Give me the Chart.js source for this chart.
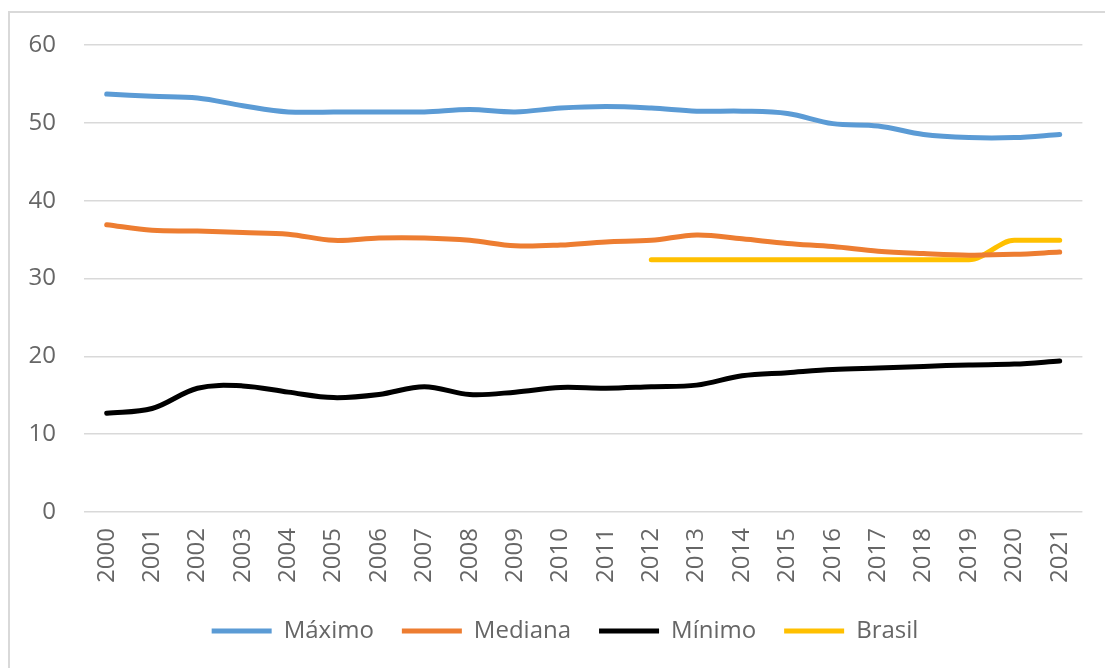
<!DOCTYPE html>
<html>
<head>
<meta charset="utf-8">
<script src="https://cdn.jsdelivr.net/npm/chart.js@4.4.1/dist/chart.umd.min.js"></script>
<style>
    html, body { margin: 0; padding: 0; background: #fff; }
    #wrap { position: relative; width: 1105px; height: 668px; overflow: hidden; }
    #frame { position: absolute; left: 8px; top: 11px; width: 1200px; height: 800px;
             border-left: 2px solid #d9d9d9; border-top: 2px solid #d9d9d9; }
    #chart { position: absolute; left: 0; top: 0; }
</style>
</head>
<body>
<div id="wrap">
    <div id="frame"></div>
    <canvas id="chart" width="1105" height="668"></canvas>
</div>
<script>
const years = ['2000','2001','2002','2003','2004','2005','2006','2007','2008','2009','2010',
               '2011','2012','2013','2014','2015','2016','2017','2018','2019','2020','2021'];

const maximo  = [53.7, 53.4, 53.2, 52.2, 51.4, 51.4, 51.4, 51.4, 51.7, 51.4, 51.9,
                 52.1, 51.9, 51.5, 51.5, 51.2, 49.9, 49.6, 48.5, 48.1, 48.1, 48.5];
const mediana = [36.9, 36.2, 36.1, 35.9, 35.7, 34.9, 35.2, 35.2, 34.9, 34.2, 34.3,
                 34.7, 34.9, 35.6, 35.1, 34.5, 34.1, 33.5, 33.2, 33.0, 33.1, 33.4];
const minimo  = [12.7, 13.3, 15.9, 16.2, 15.4, 14.7, 15.1, 16.1, 15.1, 15.4, 16.0,
                 15.9, 16.1, 16.3, 17.5, 17.9, 18.3, 18.5, 18.7, 18.9, 19.0, 19.4];
const brasil  = [null, null, null, null, null, null, null, null, null, null, null,
                 null, 32.4, 32.4, 32.4, 32.4, 32.4, 32.4, 32.4, 32.4, 34.9, 34.9];

const yTicks = { min: 0, max: 60, step: 10 };

const textColor = '#666666';
const fontFamily = '"Open Sans", "Liberation Sans", sans-serif';

function serie(label, data, color, monotone) {
    return {
        label: label,
        data: data,
        borderColor: color,
        backgroundColor: color,
        borderWidth: 5,
        borderCapStyle: 'round',
        borderJoinStyle: 'round',
        pointRadius: 0,
        tension: 0.35,
        cubicInterpolationMode: monotone ? 'monotone' : 'default',
        spanGaps: false
    };
}

// legenda centrada um pouco à direita, como no original
const shiftLegend = {
    id: 'shiftLegend',
    afterLayout(chart) {
        chart.legend.left += 47;
    }
};

const ctx = document.getElementById('chart').getContext('2d');
const chart = new Chart(ctx, {
    type: 'line',
    data: {
        labels: years,
        datasets: [
            serie('Máximo', maximo, '#5b9bd5'),
            serie('Mediana', mediana, '#ed7d31'),
            serie('Mínimo', minimo, '#000000'),
            serie('Brasil', brasil, '#ffc000', true)
        ]
    },
    options: {
        responsive: false,
        animation: false,
        devicePixelRatio: 1,
        layout: { padding: { left: 0, right: 22, top: 45, bottom: 15 } },
        plugins: {
            legend: {
                position: 'bottom',
                labels: {
                    usePointStyle: true,
                    pointStyle: 'line',
                    pointStyleWidth: 60,
                    boxHeight: 24,
                    padding: 28,
                    color: textColor,
                    font: { family: fontFamily, size: 24 }
                }
            },
            tooltip: { enabled: false }
        },
        scales: {
            x: {
                offset: true,
                grid: { display: false, drawTicks: false },
                border: { display: false },
                ticks: {
                    minRotation: 90,
                    maxRotation: 90,
                    autoSkip: false,
                    padding: 16,
                    color: textColor,
                    font: { family: fontFamily, size: 24 }
                },
                afterFit: (s) => { s.height = 79; }
            },
            y: {
                min: yTicks.min,
                max: yTicks.max,
                grid: { color: '#d9d9d9', lineWidth: 1.5, drawTicks: false },
                border: { display: false },
                ticks: {
                    stepSize: yTicks.step,
                    padding: 28,
                    color: textColor,
                    font: { family: fontFamily, size: 24 }
                },
                afterFit: (s) => { s.width = 84; }
            }
        }
    },
    plugins: [shiftLegend]
});
</script>
</body>
</html>
